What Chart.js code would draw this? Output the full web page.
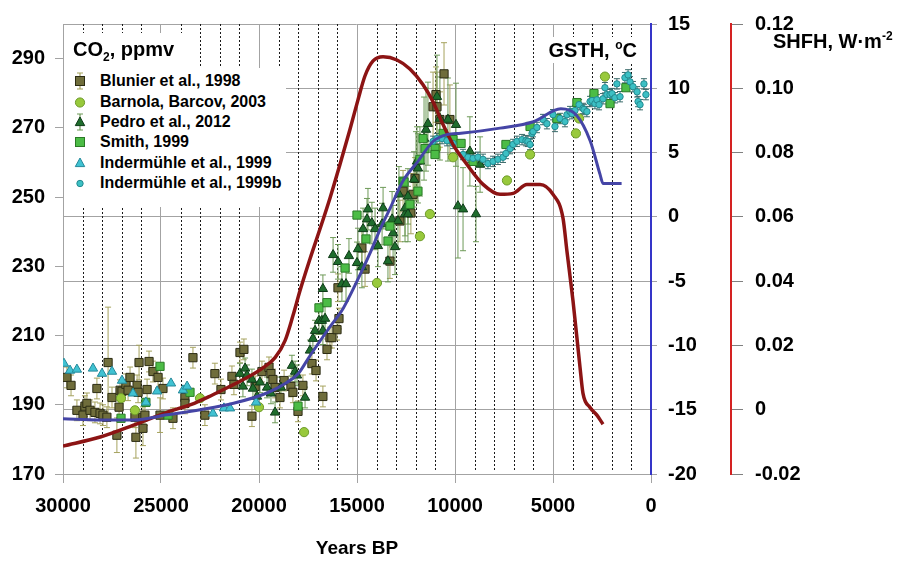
<!DOCTYPE html>
<html>
<head>
<meta charset="utf-8">
<script src="https://cdn.jsdelivr.net/npm/chart.js@4.4.0/dist/chart.umd.min.js"></script>
<style>
  body { margin: 0; background: #fff; font-family: "Liberation Sans", Arial, sans-serif; }
  #wrap { position: relative; width: 899px; height: 561px; }
  #chart { position: absolute; left: 0; top: 0; }
  .box { position: absolute; background: #fff; }
  .ttl { position: absolute; font-weight: bold; font-size: 20px; color: #000; white-space: nowrap; line-height: 1; }
  .ttl sub, .ttl sup { font-size: 12px; line-height: 0; }
  #legend { position: absolute; left: 64px; top: 68px; width: 222px; height: 139px; background: #fff; padding-top: 3px; box-sizing: border-box; }
  .row { display: flex; align-items: center; height: 20.4px; font-weight: bold; font-size: 16px; color: #000; white-space: nowrap; }
  .row svg { width: 20px; height: 20px; margin-left: 6px; margin-right: 10px; flex: none; }
</style>
</head>
<body>
<div id="wrap">
  <canvas id="chart" width="899" height="561"></canvas>
  <div class="box" style="left:64px;top:33px;width:126px;height:35px;"></div>
  <div class="box" style="left:538px;top:37px;width:105px;height:26px;"></div>
  <div class="ttl" style="left:73px;top:39px;">CO<sub>2</sub>, ppmv</div>
  <div class="ttl" style="right:262px;top:40px;">GSTH, <sup>o</sup>C</div>
  <div class="ttl" style="left:773px;top:31px;">SHFH, W·m<sup>-2</sup></div>
  <div id="legend"></div>
</div>
<script>
// ====== Data (years BP, CO2 ppmv, error) ======
const yearTicks = [30000, 25000, 20000, 15000, 10000, 5000, 0];
const co2Ticks = [170, 190, 210, 230, 250, 270, 290];
const gsthTicks = [-20, -15, -10, -5, 0, 5, 10, 15];
const shfhTicks = [-0.02, 0, 0.02, 0.04, 0.06, 0.08, 0.10, 0.12];

const blunier = [
  [29800,197.9,3],[29590,195.6,3],[29290,188.4,3],[28980,187.0,3],[28880,189.6,3],[28780,190.4,3],
  [28620,188.4,3],[28370,187.8,3],[28270,194.7,3],[28110,187.5,3],[27960,187.0,3],[27760,186.4,3],
  [27700,202.2,16],[27500,192.1,3],[27250,181.2,5],[27140,189.3,3],[27090,194.2,3],[26990,193.9,3],
  [26790,195.9,3],[26680,194.2,3],[26580,197.9,3],[26330,186.4,3],[26280,180.6,6],[26220,195.6,3],
  [26170,193.6,3],[26120,202.2,5],[25920,183.2,5],[25920,186.4,3],[25820,187.0,3],[25710,194.4,3],
  [25610,202.5,3],[25410,199.6,3],[25150,197.9,3],[25050,187.0,5],[24900,194.7,3],[24390,186.1,3],
  [23780,192.1,3],[23780,190.4,3],[23370,203.6,3],[22760,187.0,3],[22250,199.0,3],[21940,194.4,3],
  [21380,198.2,3],[21280,195.9,3],[20970,205.1,3],[20770,206.0,3],[20360,186.7,3],[20200,195.3,3],
  [19850,199.6,3],[19490,200.8,3],[19390,199.0,3],[19290,197.3,3],[19180,195.0,3],[18930,192.1,3],
  [18720,197.0,3],[18370,195.3,3],[18270,193.6,3],[18010,188.1,3],[17760,195.6,3],[17300,201.9,3],
  [17090,199.9,3],[16740,192.4,3],[16530,206.0,3],[16380,209.4,3],[16280,209.4,3],[16020,211.7,3],
  [15970,223.8,4],[15920,214.9,3],[14750,235.3,5],[14590,229.2,5],[13320,231.5,5],[12810,243.1,6],
  [12650,251.7,6],[12250,245.4,6],[12140,250.8,6],[12040,255.4,6],[11120,276.1,10],[10970,279.6,8],
  [10920,276.1,10],[10770,272.4,8],[10560,285.6,9],[10260,272.4,10]
];
const barnola = [
  [27040,191.9],[26330,188.4],[23010,191.9],[20000,189.3],[17700,182.1],[13980,225.2],[11790,238.7],
  [11280,245.1],[10970,264.0],[10100,261.5],[7350,254.8],[6170,262.3],[3830,268.4],[3670,272.7],[2350,284.8]
];
const pedro = [
  [20970,199.0,3],[20820,195.3,3],[20710,200.5,3],[20610,198.5,3],[20360,197.3,3],[20310,194.7,3],
  [20100,192.4,3],[19950,196.5,3],[19590,195.0,3],[19390,193.3,3],[19180,187.8,3],[18880,195.0,3],
  [18320,201.3,3],[18160,199.6,3],[18060,198.5,3],[17650,192.1,3],[17400,205.7,3],[17250,209.1,3],
  [17140,211.4,3],[16940,214.3,4],[16790,214.3,4],[16740,223.5,4],[16740,211.4,4],[16630,214.9,4],
  [16220,233.3,5],[15970,231.3,5],[15770,224.9,5],[15560,224.9,5],[15410,233.0,5],[15000,231.0,6],
  [14950,235.0,6],[14750,229.8,6],[14690,240.8,6],[14490,243.6,6],[14440,246.5,6],[14240,242.5,6],
  [14080,240.8,6],[13930,235.9,6],[13720,242.2,6],[13670,246.8,6],[13420,231.5,6],[13210,243.6,8],
  [13160,239.6,8],[13060,235.6,8],[12910,243.1,8],[12860,250.8,8],[12550,245.1,8],[12550,246.8,8],
  [12400,245.1,8],[12400,250.2,8],[12090,255.1,8],[11990,258.9,10],[11940,260.3,10],[11890,258.3,10],
  [11790,260.3,10],[11580,266.9,12],[11480,269.5,12],[11380,271.2,12],[10920,279.0,12],[10770,272.7,12],
  [10360,272.4,12],[9950,270.9,12],[9850,247.4,15],[9590,246.5,12],[9240,263.2,10],[8930,245.1,8],[8720,259.4,8]
];
const smith = [
  [27040,186.1],[25770,190.7],[25050,201.1],[24640,187.0],[23520,193.6],[18010,189.6],[16940,218.0],
  [16530,219.5],[15610,229.5],[15000,244.8],[14540,237.9],[13420,237.3],[13320,241.6],[12650,254.6],
  [12600,254.3],[12300,247.9],[11890,251.7],[11790,260.9],[11630,266.9],[11530,264.0],[11020,264.0],
  [11020,262.3],[10610,268.4],[10100,266.6],[9690,265.5],[9080,260.3],[7400,265.2],[6170,270.4],
  [4800,272.7],[3780,277.3],[2910,279.9],[2090,277.0],[1280,281.6]
];
const inder = [
  [29950,201.9],[29640,199.9],[29290,200.2],[28470,200.5],[28010,199.0],[27500,199.6],[26990,197.0],
  [26430,193.3],[25770,190.7],[25200,193.9],[24490,196.2],[23880,194.2],[23670,195.3],[22350,187.5],
  [21790,189.0],[21480,189.0],[20150,190.7]
];
const inderB = [
  [11120,266.1],[10920,266.9],[10660,266.9],[10410,266.3],[10100,265.5],[9590,262.3],[9340,261.5],
  [9080,261.2],[8830,261.5],[8570,260.9],[8320,259.7],[8060,260.3],[7810,260.9],[7550,261.5],
  [7400,262.6],[7190,264.0],[7040,265.2],[6840,266.1],[6580,266.6],[6380,266.3],[6280,266.1],
  [6170,265.2],[6070,268.4],[6020,268.9],[5820,270.1],[5510,272.4],[5310,271.2],[5000,273.8],
  [4900,270.4],[4640,272.7],[4390,271.8],[4290,273.8],[4130,274.7],[4030,274.1],[3880,275.0],
  [3670,276.7],[3470,275.6],[3420,275.3],[3270,274.7],[3110,277.6],[3010,277.9],[2860,277.0],
  [2760,278.1],[2650,276.7],[2450,278.4],[2350,281.6],[2250,279.6],[2090,279.6],[1990,279.9],
  [1840,278.7],[1740,282.7],[1580,279.0],[1330,284.5],[1170,285.3],[1070,283.3],[920,281.9],
  [710,280.4],[660,277.6],[560,276.7],[360,282.7],[260,279.6]
];
const inderBErr = 1.5;

// GSTH, degC (right blue axis)
const gsth = [
  [30000,-15.7],[28100,-15.8],[26400,-15.8],[24700,-15.4],[23000,-15.0],[21300,-14.5],[19600,-13.7],
  [18600,-12.9],[18000,-12.2],[17400,-10.8],[16400,-8.6],[15700,-7.1],[15000,-5.0],[14300,-2.7],
  [13800,-0.9],[13300,0.7],[12650,2.8],[11900,4.3],[11100,5.9],[10400,6.4],[9700,6.5],[7700,6.9],
  [6000,7.4],[4600,8.4],[3800,7.9],[3100,5.9],[2600,3.3],[2450,2.6],[1500,2.6]
];
// SHFH, W/m2 (far right red axis)
const shfh = [
  [30000,-0.0113],[28100,-0.0085],[26400,-0.0048],[24700,-0.0008],[23300,0.0020],[22400,0.0045],
  [21600,0.0069],[20700,0.0097],[19850,0.0128],[19180,0.0162],[18670,0.0215],[18270,0.0292],
  [17910,0.0370],[17400,0.0469],[16890,0.0562],[16380,0.0658],[15870,0.0763],[15360,0.0872],
  [14950,0.0964],[14590,0.1039],[14180,0.1085],[13670,0.1098],[12960,0.1088],[12300,0.1060],
  [11630,0.1011],[11120,0.0958],[10610,0.0887],[10100,0.0825],[9390,0.0763],[8570,0.0701],
  [7700,0.0670],[7040,0.0673],[6330,0.0701],[5660,0.0701],[5000,0.0670],[4490,0.0596],
  [4290,0.0494],[3980,0.0339],[3620,0.0131],[3470,0.0051],[3110,0.0007],[2760,-0.0017],[2450,-0.0045]
];

const FONT = "'Liberation Sans', Arial, sans-serif";
const GRID = '#a3a3a3';
const toPts = (arr, err) => arr.map(p => ({ x: p[0], y: p[1], e: p[2] !== undefined ? p[2] : err }));
const tickList = list => scale => { scale.ticks = list.map(v => ({ value: v })); };

// ====== Dotted 1000-year grid ======
const minorGrid = {
  id: 'minorGrid',
  beforeDatasetsDraw(chart) {
    const { ctx, chartArea: a, scales: { x } } = chart;
    ctx.save();
    ctx.strokeStyle = '#1a1a1a';
    ctx.lineWidth = 1;
    ctx.setLineDash([2, 2]);
    ctx.beginPath();
    for (let v = 1000; v < 30000; v += 1000) {
      if (v % 5000 === 0) continue;
      const px = Math.round(x.getPixelForValue(v)) + 0.5;
      ctx.moveTo(px, a.top);
      ctx.lineTo(px, a.bottom - 2);
    }
    ctx.stroke();
    ctx.restore();
  }
};

// ====== Error bars drawn under the markers ======
const errorBars = {
  id: 'errorBars',
  beforeDatasetsDraw(chart) {
    const ctx = chart.ctx;
    const ys = chart.scales.y;
    ctx.save();
    ctx.beginPath();
    ctx.rect(chart.chartArea.left, chart.chartArea.top, chart.chartArea.width, chart.chartArea.height);
    ctx.clip();
    chart.data.datasets.forEach((ds, i) => {
      if (!ds.errColor) return;
      const meta = chart.getDatasetMeta(i);
      ctx.strokeStyle = ds.errColor;
      ctx.lineWidth = 1;
      ctx.beginPath();
      meta.data.forEach((pt, j) => {
        const d = ds.data[j];
        if (!d.e) return;
        const top = ys.getPixelForValue(d.y + d.e), bot = ys.getPixelForValue(d.y - d.e);
        ctx.moveTo(pt.x, top); ctx.lineTo(pt.x, bot);
        ctx.moveTo(pt.x - 3, top); ctx.lineTo(pt.x + 3, top);
        ctx.moveTo(pt.x - 3, bot); ctx.lineTo(pt.x + 3, bot);
      });
      ctx.stroke();
    });
    ctx.restore();
  }
};

const series = [
  { label: 'Blunier et al., 1998', data: toPts(blunier), pointStyle: 'rect', pointRadius: 5.8, backgroundColor: '#6f6d3b', borderColor: '#2c2c14', errColor: '#a6a35e', order: 6 },
  { label: 'Barnola, Barcov, 2003', data: toPts(barnola), pointStyle: 'circle', pointRadius: 4.6, backgroundColor: '#98c93c', borderColor: '#6c9a28', order: 5 },
  { label: 'Pedro et al., 2012', data: toPts(pedro), pointStyle: 'triangle', pointRadius: 5.4, backgroundColor: '#1f6d2d', borderColor: '#0e3a17', errColor: '#6e9a58', order: 4 },
  { label: 'Smith, 1999', data: toPts(smith), pointStyle: 'rect', pointRadius: 5.8, backgroundColor: '#4cbc46', borderColor: '#2a7a26', order: 3 },
  { label: 'Indermühle et al., 1999', data: toPts(inder), pointStyle: 'triangle', pointRadius: 5.4, backgroundColor: '#40c2d2', borderColor: '#25899a', order: 2 },
  { label: 'Indermühle et al., 1999b', data: toPts(inderB, inderBErr), pointStyle: 'circle', pointRadius: 3.2, backgroundColor: '#3cc0c4', borderColor: '#238a90', errColor: '#3a6a6a', order: 1 }
];
series.forEach(s => { s.borderWidth = 1; s.yAxisID = 'y'; });

const lines = [
  { label: 'GSTH', data: gsth.map(p => ({ x: p[0], y: p[1] })), yAxisID: 'y1', showLine: true, pointRadius: 0, borderColor: '#4545a6', borderWidth: 3, cubicInterpolationMode: 'monotone', order: 0 },
  { label: 'SHFH', data: shfh.map(p => ({ x: p[0], y: p[1] })), yAxisID: 'y2', showLine: true, pointRadius: 0, borderColor: '#8c1414', borderWidth: 3.5, cubicInterpolationMode: 'monotone', order: 0 }
];

const tickFont = { family: FONT, size: 20, weight: 'bold' };

new Chart(document.getElementById('chart'), {
  type: 'scatter',
  data: { datasets: [...lines, ...series] },
  plugins: [minorGrid, errorBars],
  options: {
    responsive: false,
    animation: false,
    events: [],
    layout: { padding: { top: 10, left: 0, right: 0, bottom: 0 } },
    plugins: { legend: { display: false }, tooltip: { enabled: false } },
    scales: {
      x: {
        type: 'linear', position: 'bottom', reverse: true, min: 0, max: 30000,
        afterBuildTicks: tickList(yearTicks),
        ticks: { color: '#000', font: tickFont, padding: 11, maxRotation: 0, callback: v => String(v) },
        grid: { color: GRID, tickColor: GRID, tickLength: 9 },
        border: { color: GRID },
        title: { display: true, text: 'Years BP', color: '#000', font: { family: FONT, size: 19, weight: 'bold' }, padding: { top: 0, bottom: 1 } },
        afterFit: s => { s.height = 87; }
      },
      y: {
        position: 'left', min: 170, max: 300,
        afterBuildTicks: tickList(co2Ticks),
        ticks: { color: '#000', font: tickFont, padding: 10 },
        grid: { drawOnChartArea: false, tickColor: GRID, tickLength: 8 },
        border: { color: GRID },
        afterFit: s => { s.width = 63; }
      },
      y1: {
        position: 'right', min: -20, max: 15,
        afterBuildTicks: tickList(gsthTicks),
        ticks: { color: '#000', font: tickFont, padding: 11 },
        grid: { color: GRID, tickColor: GRID, tickLength: 6 },
        border: { color: '#3535c8', width: 2 },
        afterFit: s => { s.width = 80; }
      },
      y2: {
        position: 'right', min: -0.02, max: 0.12,
        afterBuildTicks: tickList(shfhTicks),
        ticks: { color: '#000', font: tickFont, padding: 12, callback: v => (Math.abs(v) < 1e-9 ? '0' : v.toFixed(2)) },
        grid: { drawOnChartArea: false, tickColor: '#808080', tickLength: 12 },
        border: { color: '#d42222', width: 2 },
        afterFit: s => { s.width = 168; }
      }
    }
  }
});

// ====== Legend (HTML, inside the plot) ======
function marker(s) {
  const f = s.backgroundColor, b = s.borderColor;
  let bar = '';
  if (s.errColor && s.label !== 'Indermühle et al., 1999b') {
    bar = `<path d="M10 2V18M7 2H13M7 18H13" stroke="${s.errColor}" stroke-width="1.2" fill="none"/>`;
  }
  let shape;
  if (s.pointStyle === 'rect') shape = `<rect x="5.5" y="5.5" width="9" height="9" fill="${f}" stroke="${b}"/>`;
  else if (s.pointStyle === 'triangle') shape = `<path d="M10 5L14.7 13.6H5.3Z" fill="${f}" stroke="${b}"/>`;
  else shape = `<circle cx="10" cy="10.5" r="${s.pointRadius}" fill="${f}" stroke="${b}"/>`;
  return `<svg viewBox="0 0 20 20">${bar}${shape}</svg>`;
}
document.getElementById('legend').innerHTML = series.map(s =>
  `<div class="row">${marker(s)}<span>${s.label}</span></div>`).join('');
</script>
</body>
</html>
